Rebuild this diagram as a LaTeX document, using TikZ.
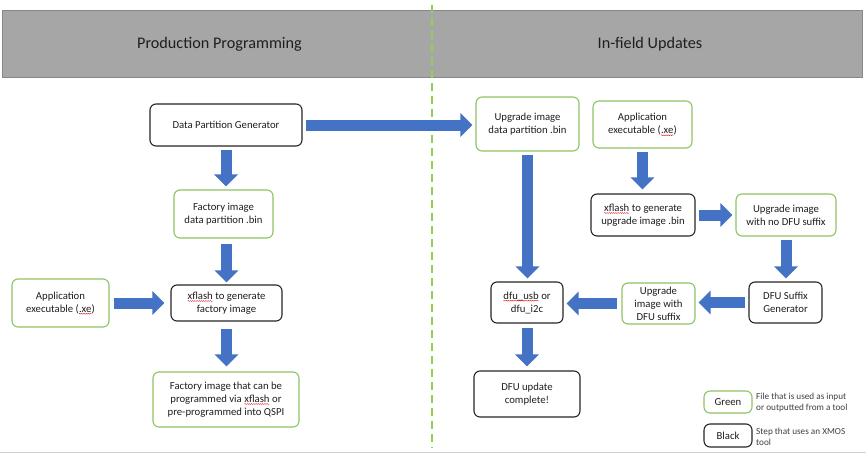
\documentclass[tikz,border=0pt]{standalone}
\usepackage{fontspec}
\setmainfont{Carlito}
\usetikzlibrary{arrows.meta,decorations.pathmorphing}
\definecolor{gboxc}{RGB}{140,196,100}
\definecolor{bboxc}{RGB}{38,38,38}
\definecolor{ablue}{RGB}{68,114,196}
\definecolor{hgray}{RGB}{166,166,166}
\definecolor{hline}{RGB}{135,135,135}
\definecolor{dgreen}{RGB}{146,208,80}
\definecolor{txt}{RGB}{30,30,30}
\newcommand\sqz[1]{\tikz[baseline=(sqw.base)]{\node[inner sep=0pt,outer sep=0pt,draw=none,fill=none,minimum width=0pt,minimum height=0pt,rounded corners=0pt](sqw){#1};\draw[red!85!black,line width=0.35pt,rounded corners=0pt,decorate,decoration={snake,amplitude=0.45pt,segment length=2.2pt}]([yshift=-1.7pt]sqw.base west)--([yshift=-1.7pt]sqw.base east);}}
\tikzset{
  boxbase/.style={rounded corners=6pt, line width=1.1pt, align=center, inner sep=2pt,
    font=\fontsize{10.7}{13}\selectfont, text=txt},
  gbox/.style={boxbase, draw=gboxc},
  bbox/.style={boxbase, draw=bboxc},
  barrow/.style={draw=ablue, line width=11pt, -{Triangle[length=12pt,width=23pt]},
    shorten <=3pt, shorten >=3pt},
  legtext/.style={anchor=west, align=left, inner sep=0pt, text=txt!85!white,
    font=\fontsize{9.2}{11}\selectfont},
  headtext/.style={font=\fontsize{16.2}{19}\selectfont, text=txt}
}
\begin{document}
\begin{tikzpicture}[x=1pt,y=-1pt]
\useasboundingbox (0,0) rectangle (866,455);
\fill[white] (0,0) rectangle (866,455);
% header band
\node[draw=hline, fill=hgray, line width=0.8pt, minimum width=860pt, minimum height=67pt,
  inner sep=0pt, anchor=north west] (hdr) at (2,10) {};
\node[headtext] (hl) at (219.5,44) {Production Programming};
\node[headtext] (hr) at (650,44) {In-field Updates};
% separators
\coordinate (dtop) at (432,5);
\coordinate (dbot) at (432,448);
\draw[dgreen, line width=2pt, dash pattern=on 8pt off 5pt] (dtop) -- (dbot);
\coordinate (bl) at (0,452);
\coordinate (br) at (866,452);
\draw[black!18, line width=1pt] (bl) -- (br);
% left side
\node[bbox, minimum width=152pt, minimum height=42pt] (dpg) at (226,125) {Data Partition Generator};
\node[gbox, minimum width=99pt, minimum height=48pt] (fac) at (223.5,214) {Factory image\\data partition .bin};
\node[gbox, minimum width=97pt, minimum height=48pt] (appL) at (60.5,303) {Application\\executable (\sqz{.xe})};
\node[bbox, minimum width=111pt, minimum height=36pt] (xfl) at (226.5,303) {\sqz{xflash} to generate\\factory image};
\node[gbox, minimum width=146pt, minimum height=55pt] (fin) at (226,399.5) {Factory image that can be\\programmed via \sqz{xflash} or\\pre-programmed into QSPI};
% right side
\node[gbox, minimum width=103pt, minimum height=54pt] (upd) at (527.5,124) {Upgrade image\\data partition .bin};
\node[gbox, minimum width=99pt, minimum height=47pt] (appR) at (642.5,124.5) {Application\\executable (\sqz{.xe})};
\node[bbox, minimum width=104pt, minimum height=42pt] (xfu) at (643,215) {\sqz{xflash} to generate\\upgrade image .bin};
\node[gbox, minimum width=100pt, minimum height=42pt] (nod) at (786,215) {Upgrade image\\with no DFU suffix};
\node[bbox, minimum width=72pt, minimum height=41pt] (dfu) at (527,302.5) {\sqz{dfu\_usb} or\\dfu\_i2c};
\node[gbox, minimum width=73pt, minimum height=41pt] (uws) at (658.5,303.5) {Upgrade\\image with\\DFU suffix};
\node[bbox, minimum width=73pt, minimum height=41pt] (dsg) at (785.5,302.5) {DFU Suffix\\Generator};
\node[bbox, minimum width=106pt, minimum height=46pt] (done) at (527,394) {DFU update\\complete!};
% legend
\node[gbox, minimum width=48pt, minimum height=22pt] (lg) at (728,402) {Green};
\node[bbox, minimum width=48pt, minimum height=23pt] (lb) at (728,435.5) {Black};
\node[legtext] (lgt) at (756,402.5) {File that is used as input\\or outputted from a tool};
\node[legtext] (lbt) at (756,436.5) {Step that uses an XMOS\\tool};
% arrows
\draw[barrow] (dpg.south) -- (dpg.south |- fac.north);
\draw[barrow, shorten <=5pt, shorten >=2pt] (xfl.north |- fac.south) -- (xfl.north);
\draw[barrow, shorten <=4pt, shorten >=6pt] (appL.east) -- (appL.east -| xfl.west);
\draw[barrow, shorten <=7pt, shorten >=5pt] (xfl.south) -- (xfl.south |- fin.north);
\draw[barrow] (dpg.east) -- (dpg.east -| upd.west);
\draw[barrow] (upd.south) -- (upd.south |- dfu.north);
\draw[barrow, shorten >=4pt] (appR.south) -- (appR.south |- xfu.north);
\draw[barrow] (xfu.east) -- (xfu.east -| nod.west);
\draw[barrow] (nod.south) -- (nod.south |- dsg.north);
\draw[barrow] (dsg.west) -- (dsg.west -| uws.east);
\draw[barrow, shorten <=4pt] (uws.west) -- (uws.west -| dfu.east);
\draw[barrow, shorten <=4pt, shorten >=4pt] (dfu.south) -- (dfu.south |- done.north);
\end{tikzpicture}
\end{document}
